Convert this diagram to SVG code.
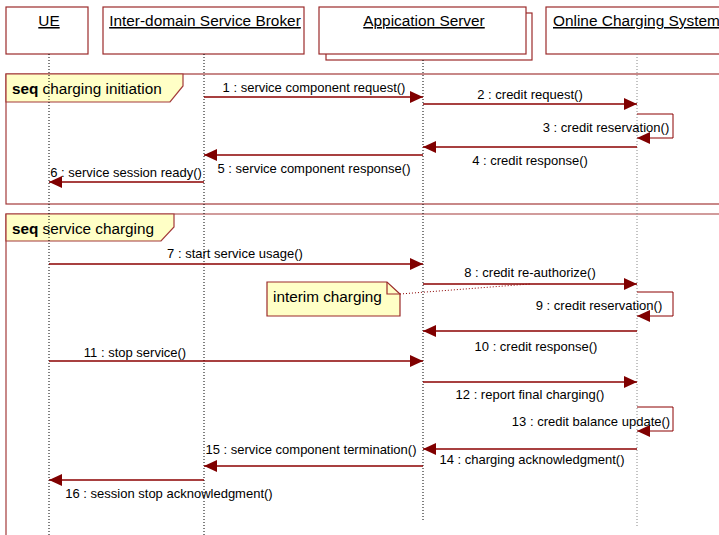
<svg xmlns="http://www.w3.org/2000/svg" width="719" height="535" viewBox="0 0 719 535">
<defs>
<marker id="ah" markerUnits="userSpaceOnUse" markerWidth="14" markerHeight="12" refX="13" refY="6" orient="auto">
<path d="M0,0 L13,6 L0,12 Z" fill="#800000"/>
</marker>
<style>
.hdr{fill:#fff;stroke:#9b2a2a;stroke-width:1.2}
.ht{font-family:"Liberation Sans",Arial,sans-serif;font-size:15.4px;fill:#000;text-anchor:middle;text-decoration:underline}
.life{stroke:#000;stroke-width:1;stroke-dasharray:1,2;fill:none}
.lifeg{stroke:#888;stroke-width:1;stroke-dasharray:1,2;fill:none}
.frame{fill:none;stroke:#a33a3a;stroke-width:1.2}
.tab{fill:#ffffc6;stroke:#a33a3a;stroke-width:1.2}
.ft{font-family:"Liberation Sans",Arial,sans-serif;font-size:15.3px;fill:#000}
.msg{stroke:#8b0000;stroke-width:1.4;fill:none;marker-end:url(#ah)}
.loop{stroke:#8b0000;stroke-width:1;fill:none;marker-end:url(#ah)}
.ml{font-family:"Liberation Sans",Arial,sans-serif;font-size:13px;fill:#000;text-anchor:middle}
.note{fill:#ffffc6;stroke:#9b2a2a;stroke-width:1.2}
</style>
</defs>

<g id="frame-charging-initiation">
<rect class="frame" x="6" y="74" width="720" height="130"/>
<path class="tab" d="M6,74 H183 V86 L170,102 H6 Z"/>
<text class="ft" x="12" y="94"><tspan font-weight="bold">seq</tspan> charging initiation</text>
</g>
<g id="frame-service-charging">
<path class="frame" d="M6,540 V214 H726"/>
<path class="tab" d="M6,214 H174 V227 L161,241 H6 Z"/>
<text class="ft" x="12" y="234"><tspan font-weight="bold">seq</tspan> service charging</text>
</g>

<g id="UE">
<rect class="hdr" x="6" y="7" width="82" height="47"/>
<text class="ht" x="49" y="26">UE</text>
<line class="life" x1="49" y1="54" x2="49" y2="535"/>
</g>
<g id="ISB">
<rect class="hdr" x="103" y="7" width="201" height="47"/>
<text class="ht" x="205" y="26">Inter-domain Service Broker</text>
<line class="life" x1="204" y1="54" x2="204" y2="535"/>
</g>
<g id="AS">
<rect class="hdr" x="326" y="13" width="206" height="47"/>
<rect class="hdr" x="319" y="7" width="207" height="47"/>
<text class="ht" x="424" y="26">Appication Server</text>
<line class="life" x1="423" y1="60" x2="423" y2="522"/>
</g>
<g id="OCS">
<rect class="hdr" x="546" y="7" width="190" height="47"/>
<text class="ht" x="553" y="26" style="text-anchor:start">Online Charging System</text>
<line class="lifeg" x1="637" y1="54" x2="637" y2="527"/>
</g>

<g id="note-interim-charging">
<path class="note" d="M267,282 H387 L400,294 V316 H267 Z"/>
<path d="M387,282 V294 H400" fill="none" stroke="#9b2a2a" stroke-width="1.2"/>
<text class="ft" x="273" y="302">interim charging</text>
</g>

<g id="connectors">
<line x1="400" y1="294" x2="530" y2="284" stroke="#8b0000" stroke-width="1" stroke-dasharray="1,2"/>
<line class="msg" x1="204" y1="97" x2="423" y2="97"/>
<line class="msg" x1="423" y1="104" x2="637" y2="104"/>
<path class="loop" d="M637,114 H673 V138 H637"/>
<line class="msg" x1="637" y1="147" x2="423" y2="147"/>
<line class="msg" x1="423" y1="155" x2="204" y2="155"/>
<line class="msg" x1="204" y1="182" x2="49" y2="182"/>
<line class="msg" x1="49" y1="264" x2="423" y2="264"/>
<line class="msg" x1="423" y1="284" x2="637" y2="284"/>
<path class="loop" d="M637,292 H673 V316 H637"/>
<line class="msg" x1="637" y1="331" x2="423" y2="331"/>
<line class="msg" x1="49" y1="361" x2="423" y2="361"/>
<line class="msg" x1="423" y1="382" x2="637" y2="382"/>
<path class="loop" d="M637,407 H673 V431 H637"/>
<line class="msg" x1="637" y1="449" x2="423" y2="449"/>
<line class="msg" x1="423" y1="466" x2="204" y2="466"/>
<line class="msg" x1="204" y1="480" x2="49" y2="480"/>

<text class="ml" x="314" y="92">1 : service component request()</text>
<text class="ml" x="530" y="99">2 : credit request()</text>
<text class="ml" x="606" y="132">3 : credit reservation()</text>
<text class="ml" x="530" y="165">4 : credit response()</text>
<text class="ml" x="314" y="173">5 : service component response()</text>
<text class="ml" x="126" y="177">6 : service session ready()</text>
<text class="ml" x="235" y="258">7 : start service usage()</text>
<text class="ml" x="530" y="277">8 : credit re-authorize()</text>
<text class="ml" x="599" y="310">9 : credit reservation()</text>
<text class="ml" x="536" y="351">10 : credit response()</text>
<text class="ml" x="135" y="357">11 : stop service()</text>
<text class="ml" x="530" y="399">12 : report final charging()</text>
<text class="ml" x="591" y="426">13 : credit balance update()</text>
<text class="ml" x="532" y="464">14 : charging acknowledgment()</text>
<text class="ml" x="311" y="454">15 : service component termination()</text>
<text class="ml" x="169" y="498">16 : session stop acknowledgment()</text>
</g>
</svg>
